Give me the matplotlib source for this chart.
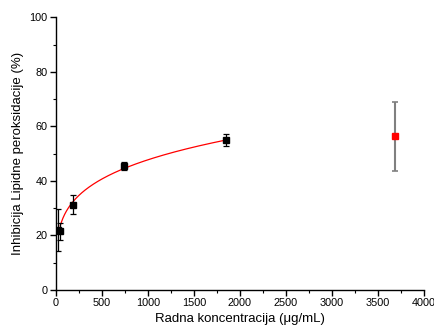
import numpy as np
import matplotlib
matplotlib.use("Agg")
import matplotlib.pyplot as plt
from matplotlib.ticker import MultipleLocator

plt.rcParams['font.family'] = ['Liberation Sans', 'DejaVu Sans']

conc = [23, 46, 184, 737, 1843]
inhib = [22.0, 21.5, 31.3, 45.4, 55.0]
err = [7.7, 3.0, 3.4, 1.5, 2.3]

red_conc = [3686]
red_inhib = [56.3]
red_err = [12.7]

fit_a = 9.75
fit_b = 0.23
fit_range = (46, 1843)

fig = plt.figure(figsize=(4.35, 3.3), dpi=100)
ax = fig.add_axes([0.1287, 0.1212, 0.8460, 0.8264])

xf = np.linspace(fit_range[0], fit_range[1], 300)
ax.plot(xf, fit_a * xf ** fit_b, color='red', lw=0.9, zorder=2)

ax.errorbar(conc, inhib, yerr=err, fmt='s', color='black', ms=4.7,
            ecolor='black', elinewidth=0.9, capsize=2.5, capthick=0.9, zorder=3)
ax.errorbar(red_conc, red_inhib, yerr=red_err, fmt='s', color='red', ms=4.8,
            ecolor='#808080', elinewidth=1.5, capsize=2.5, capthick=1.2, zorder=3)

ax.set_xlim(0, 4000)
ax.set_ylim(0, 100)
ax.xaxis.set_major_locator(MultipleLocator(500))
ax.xaxis.set_minor_locator(MultipleLocator(250))
ax.yaxis.set_major_locator(MultipleLocator(20))
ax.yaxis.set_minor_locator(MultipleLocator(10))
for s in ['top', 'right']:
    ax.spines[s].set_visible(False)
for s in ['left', 'bottom']:
    ax.spines[s].set_linewidth(1.0)
ax.tick_params(which='major', direction='out', length=4, width=1.0, labelsize=7.8, pad=2)
ax.tick_params(which='minor', direction='out', length=2.5, width=0.8)

ax.set_xlabel('Radna koncentracija (\u03bcg/mL)', fontsize=9.5, labelpad=3)
ax.set_ylabel('Inhibicija Lipidne peroksidacije (%)', fontsize=9.5, labelpad=4)

fig.savefig('out.png', dpi=100)
